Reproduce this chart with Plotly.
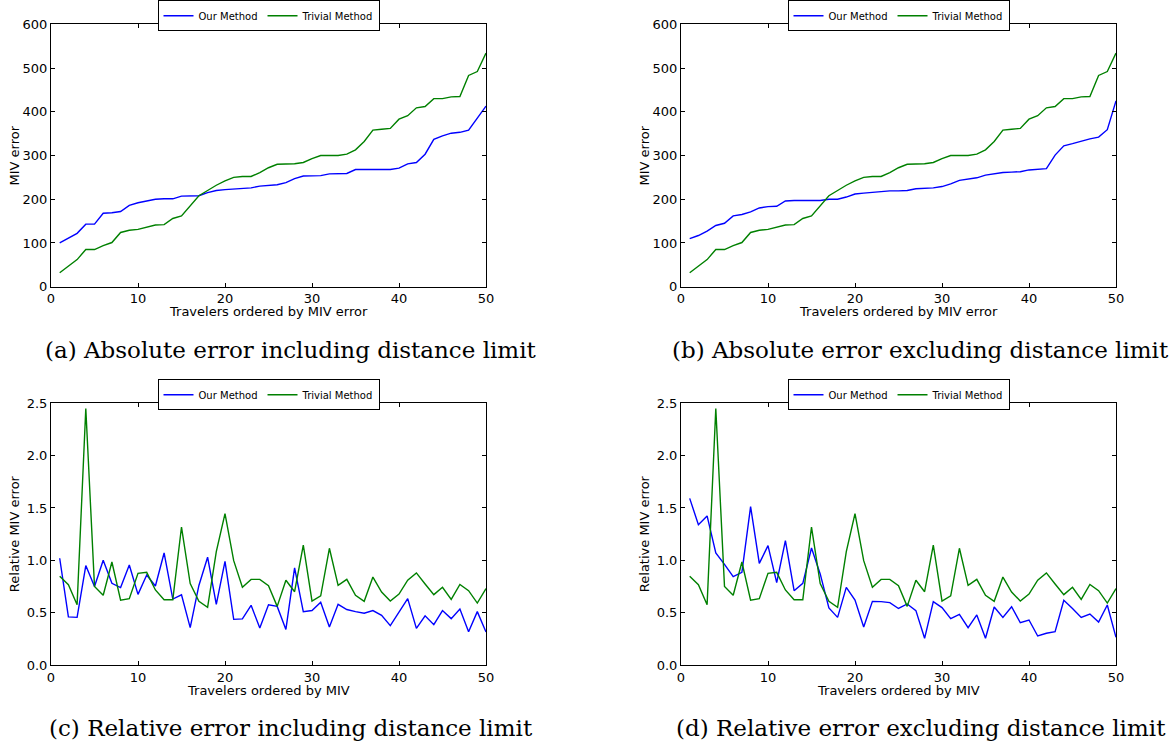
import plotly.graph_objects as go

# ---------------- data ----------------
travelers = list(range(1, 51))

# (a) absolute error including distance limit
ours_abs_incl = [100, 111, 122, 143, 143, 168, 169, 172, 186, 192,
                 196, 200, 201, 201, 207, 207, 208, 215, 220, 222,
                 223, 224, 226, 230, 232, 233, 238, 247, 253, 253,
                 254, 258, 258, 259, 268, 268, 268, 268, 268, 271,
                 281, 284, 303, 337, 345, 351, 353, 358, 385, 413]

# (b) absolute error excluding distance limit
ours_abs_excl = [110, 117, 127, 140, 145, 162, 165, 171, 180, 183,
                 184, 196, 197, 197, 197, 197, 200, 200, 205, 212,
                 214, 216, 218, 219, 219, 220, 224, 225, 226, 229,
                 235, 243, 246, 249, 255, 258, 261, 262, 263, 267,
                 268, 270, 301, 322, 327, 333, 338, 342, 359, 425]

# trivial method absolute error (same in a and b)
trivial_abs = [32, 47, 62, 85, 85, 94, 101, 124, 129, 131,
               136, 141, 142, 156, 162, 186, 208, 220, 232, 242,
               250, 252, 252, 261, 272, 280, 280, 281, 284, 293,
               300, 300, 300, 303, 313, 332, 358, 360, 362, 383,
               391, 409, 412, 430, 430, 434, 435, 483, 492, 534]

# (c) relative error including distance limit
ours_rel_incl = [1.02, 0.46, 0.455, 0.95, 0.75, 1.00, 0.78, 0.74, 0.955, 0.675,
                 0.86, 0.755, 1.07, 0.63, 0.67, 0.357, 0.76, 1.03, 0.58, 0.99,
                 0.436, 0.44, 0.57, 0.353, 0.576, 0.56, 0.34, 0.927, 0.51, 0.52,
                 0.60, 0.363, 0.58, 0.53, 0.51, 0.494, 0.52, 0.475, 0.376, 0.506,
                 0.634, 0.35, 0.47, 0.385, 0.52, 0.443, 0.535, 0.318, 0.51, 0.315]

# (d) relative error excluding distance limit
ours_rel_excl = [1.592, 1.34, 1.424, 1.07, 0.962, 0.844, 0.885, 1.513, 0.971, 1.14,
                 0.787, 1.188, 0.71, 0.78, 1.118, 0.87, 0.545, 0.455, 0.742, 0.62,
                 0.363, 0.608, 0.605, 0.596, 0.54, 0.583, 0.52, 0.255, 0.605, 0.548,
                 0.443, 0.484, 0.357, 0.478, 0.255, 0.554, 0.455, 0.557, 0.404, 0.43,
                 0.277, 0.303, 0.318, 0.618, 0.54, 0.455, 0.487, 0.41, 0.573, 0.264]

# trivial method relative error (same in c and d)
trivial_rel = [0.847, 0.767, 0.576, 2.45, 0.75, 0.666, 0.984, 0.62, 0.634, 0.876,
               0.885, 0.717, 0.624, 0.624, 1.318, 0.777, 0.608, 0.551, 1.083, 1.446,
               0.997, 0.742, 0.818, 0.818, 0.758, 0.56, 0.81, 0.70, 1.146, 0.61,
               0.66, 1.115, 0.76, 0.818, 0.666, 0.608, 0.84, 0.697, 0.611, 0.678,
               0.81, 0.88, 0.774, 0.672, 0.742, 0.627, 0.77, 0.71, 0.592, 0.73]

series_names = ["Our Method", "Trivial Method"]
captions = ["(a) Absolute error including distance limit",
            "(b) Absolute error excluding distance limit",
            "(c) Relative error including distance limit",
            "(d) Relative error excluding distance limit"]
x_titles = ["Travelers ordered by MIV error", "Travelers ordered by MIV error",
            "Travelers ordered by MIV", "Travelers ordered by MIV"]
y_titles = ["MIV error", "MIV error", "Relative MIV error", "Relative MIV error"]

# ---------------- layout geometry (pixels) ----------------
W, H = 1173, 744
panels = [  # left, right, top, bottom
    (51, 486, 24.3, 286.7),
    (681, 1116, 24.3, 286.7),
    (51, 486, 403.3, 665),
    (681, 1116, 403.3, 665),
]
BLUE = "#0000ff"
GREEN = "#008000"

def px(x):
    return x / W

def py(y):
    return 1 - y / H

fig = go.Figure()

data_sets = [
    (ours_abs_incl, trivial_abs),
    (ours_abs_excl, trivial_abs),
    (ours_rel_incl, trivial_rel),
    (ours_rel_excl, trivial_rel),
]

legend_names = ["legend", "legend2", "legend3", "legend4"]
layout_upd = {}
annotations = []

for k, ((ours, triv), (l, r, t, b)) in enumerate(zip(data_sets, panels)):
    ax = "" if k == 0 else str(k + 1)
    fig.add_trace(go.Scatter(x=travelers, y=ours, mode="lines", name=series_names[0],
                             line=dict(color=BLUE, width=1.4),
                             xaxis="x" + ax, yaxis="y" + ax, legend=legend_names[k]))
    fig.add_trace(go.Scatter(x=travelers, y=triv, mode="lines", name=series_names[1],
                             line=dict(color=GREEN, width=1.4),
                             xaxis="x" + ax, yaxis="y" + ax, legend=legend_names[k]))
    rel = k >= 2
    common = dict(showline=True, linecolor="black", linewidth=1, mirror="ticks",
                  ticks="inside", ticklen=4, tickcolor="black", showgrid=False,
                  zeroline=False, tickfont=dict(family="DejaVu Sans", size=13, color="black"))
    layout_upd["xaxis" + ax] = dict(domain=[px(l), px(r)], range=[0, 50], dtick=10, tick0=0,
                                    anchor="y" + ax, automargin=False, **common)
    if rel:
        layout_upd["yaxis" + ax] = dict(domain=[py(b), py(t)], range=[0, 2.5], dtick=0.5, tick0=0,
                                        tickformat=".1f", anchor="x" + ax, automargin=False, **common)
    else:
        layout_upd["yaxis" + ax] = dict(domain=[py(b), py(t)], range=[0, 600], dtick=100, tick0=0,
                                        anchor="x" + ax, automargin=False, **common)
    cx = (l + r) / 2
    layout_upd[legend_names[k]] = dict(
        x=px(cx), xanchor="center", y=py(t - 24), yanchor="top",
        orientation="h", bgcolor="white", bordercolor="black", borderwidth=1,
        font=dict(family="DejaVu Sans", size=10, color="black"),
        itemwidth=30, tracegroupgap=0)
    # axis titles
    annotations.append(dict(text=x_titles[k], x=px(cx), y=py(b + 25), xref="paper", yref="paper",
                            xanchor="center", yanchor="middle", showarrow=False,
                            font=dict(family="DejaVu Sans", size=13, color="black")))
    annotations.append(dict(text=y_titles[k], x=px(l - 37), y=py((t + b) / 2), xref="paper", yref="paper",
                            xanchor="center", yanchor="middle", showarrow=False, textangle=-90,
                            font=dict(family="DejaVu Sans", size=13, color="black")))
    # captions
    annotations.append(dict(text=captions[k], x=px(cx + 22), y=py(b + 63), xref="paper", yref="paper",
                            xanchor="center", yanchor="middle", showarrow=False,
                            font=dict(family="DejaVu Serif", size=23, color="black")))

fig.update_layout(
    width=W, height=H,
    margin=dict(l=0, r=0, t=0, b=0, pad=0, autoexpand=False),
    paper_bgcolor="white", plot_bgcolor="white",
    showlegend=True,
    annotations=annotations,
    **layout_upd,
)

fig.write_html("out.html")
